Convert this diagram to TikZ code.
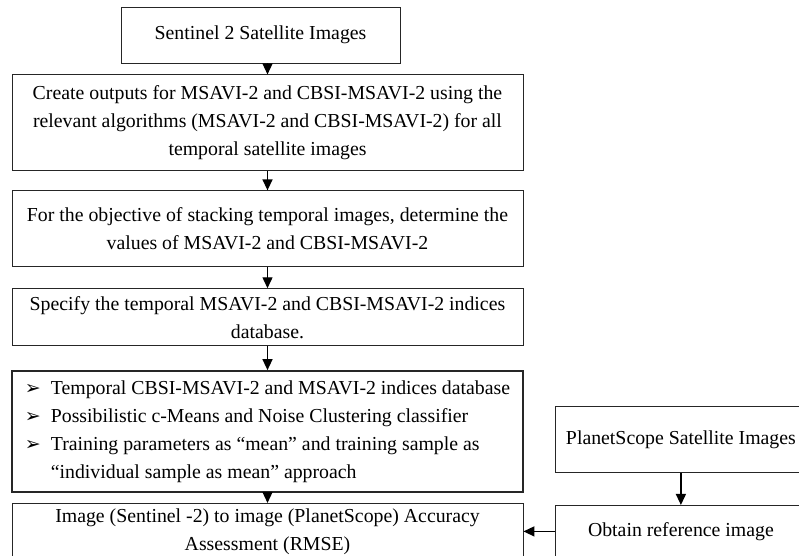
\documentclass[tikz,border=0pt]{standalone}
\usepackage{fontspec}
\setmainfont{Liberation Serif}
\newfontfamily\dingfont{DejaVu Sans}
\usetikzlibrary{positioning,arrows.meta}

\newcommand{\itemarrow}{\makebox[26pt][l]{\dingfont\fontsize{19}{28}\selectfont ➢}}

\begin{document}
\begin{tikzpicture}[x=1pt,y=1pt]

		\tikzstyle{module}=[rectangle,
			draw=black!85,line width=0.9pt,
			minimum width=511pt,
			align=center,inner sep=0mm,
			font=\fontsize{19.8}{28}\selectfont]
		\tikzstyle{arrow}=[->,>={Triangle[length=11pt,width=10pt]},
			draw=black,line width=1.4pt]

		\useasboundingbox (0,0) rectangle (799,-555);

		\node[module,minimum width=279pt,minimum height=56pt]	(sentinel)	at (260.5,-35)	{Sentinel 2 Satellite Images};
		\node[module,minimum height=96pt,below=11pt of sentinel,xshift=7pt]	(outputs)	{Create outputs for MSAVI-2 and CBSI-MSAVI-2 using the\\ relevant algorithms (MSAVI-2 and CBSI-MSAVI-2) for all\\ temporal satellite images};
		\node[module,minimum height=76pt,below=19pt of outputs]	(stacking)	{For the objective of stacking temporal images, determine the\\ values of MSAVI-2 and CBSI-MSAVI-2};
		\node[module,minimum height=57pt,below=21pt of stacking]	(database)	{Specify the temporal MSAVI-2 and CBSI-MSAVI-2 indices\\ database.};
		\node[module,minimum height=121pt,below=24pt of database,
			line width=1.8pt,align=left]	(classifier)
			{\itemarrow Temporal CBSI-MSAVI-2 and MSAVI-2 indices database\\
			\itemarrow Possibilistic c-Means and Noise Clustering classifier\\
			\itemarrow Training parameters as ``mean'' and training sample as\\
			\hspace*{26pt}``individual sample as mean'' approach};
		\node[module,minimum height=56pt,below=10pt of classifier]	(accuracy)	{Image (Sentinel -2) to image (PlanetScope) Accuracy\\ Assessment (RMSE)};

		\node[module,minimum width=250pt,minimum height=52pt,right=32pt of accuracy]	(reference)	{Obtain reference image};
		\node[module,minimum width=250pt,minimum height=66pt,above=32pt of reference]	(planet)	{PlanetScope Satellite Images};

		\draw[arrow]	(sentinel.south -| outputs)	--	(outputs);
		\draw[arrow]	(outputs)	--	(stacking);
		\draw[arrow]	(stacking)	--	(database);
		\draw[arrow]	(database)	--	(classifier);
		\draw[arrow]	(classifier)	--	(accuracy);

		\draw[arrow]	(planet)	--	(reference);
		\draw[arrow]	(reference.west)	--	(reference.west -| accuracy.east);

	\end{tikzpicture}
\end{document}
